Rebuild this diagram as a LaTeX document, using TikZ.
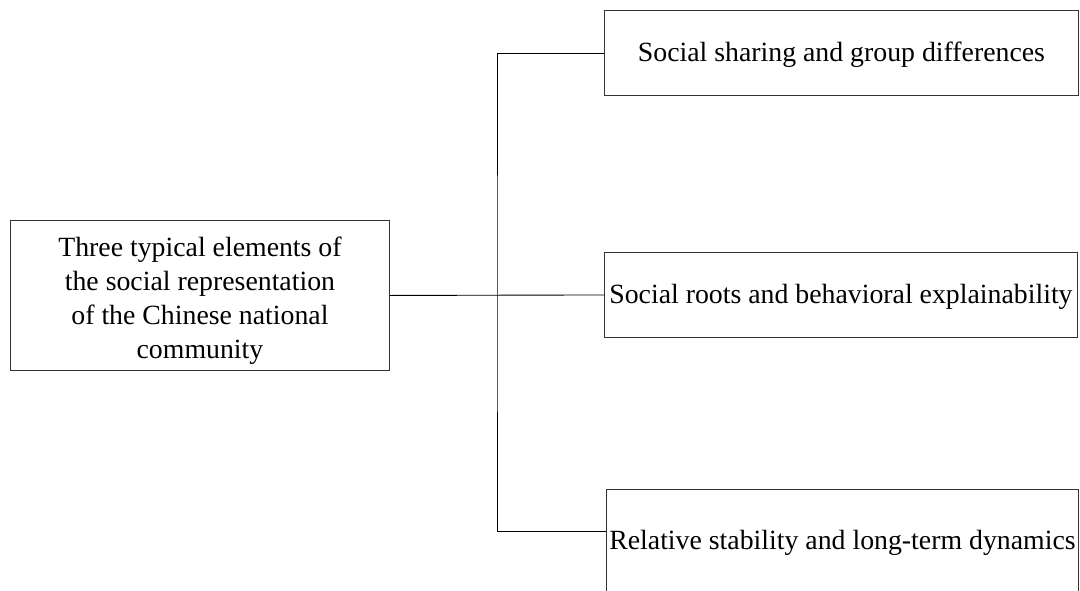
\documentclass[tikz,border=0pt]{standalone}
\usepackage{fontspec}
\setmainfont{Liberation Serif}
\newcommand{\lowtext}[2]{\raisebox{-#1}[0pt][0pt]{#2}}
\begin{document}
\begin{tikzpicture}[x=1pt,y=-1pt,
  box/.style={draw=black!80,line width=0.9pt,inner sep=0pt,anchor=north west,align=center,
    font=\fontsize{27.8}{34}\selectfont},
  link/.style={draw=black,line width=0.9pt}]
\clip (0,0) rectangle (1080,590);
\useasboundingbox (0,0) rectangle (1080,590);
\node[box,minimum width=379pt,minimum height=150pt] (src) at (10,220)
  {\lowtext{11.8pt}{\begin{tabular}{@{}c@{}}Three typical elements of\\the social representation\\of the Chinese national\\community\end{tabular}}};
\node[box,minimum width=474pt,minimum height=85pt] (b1) at (604,10) {\lowtext{8.5pt}{Social sharing and group differences}};
\node[box,minimum width=473pt,minimum height=85pt] (b2) at (604,252) {\lowtext{8.6pt}{Social roots and behavioral explainability}};
\node[box,minimum width=472pt,minimum height=102pt] (b3) at (606,489) {\lowtext{8.6pt}{Relative stability and long-term dynamics}};
\coordinate (j) at (497,295);
\coordinate (c3) at ([yshift=-42pt]b3.north west);
\draw[link] (src.east) -- (b2.west);
\draw[link] (b1.west) -| (j) |- (c3);
\end{tikzpicture}
\end{document}
